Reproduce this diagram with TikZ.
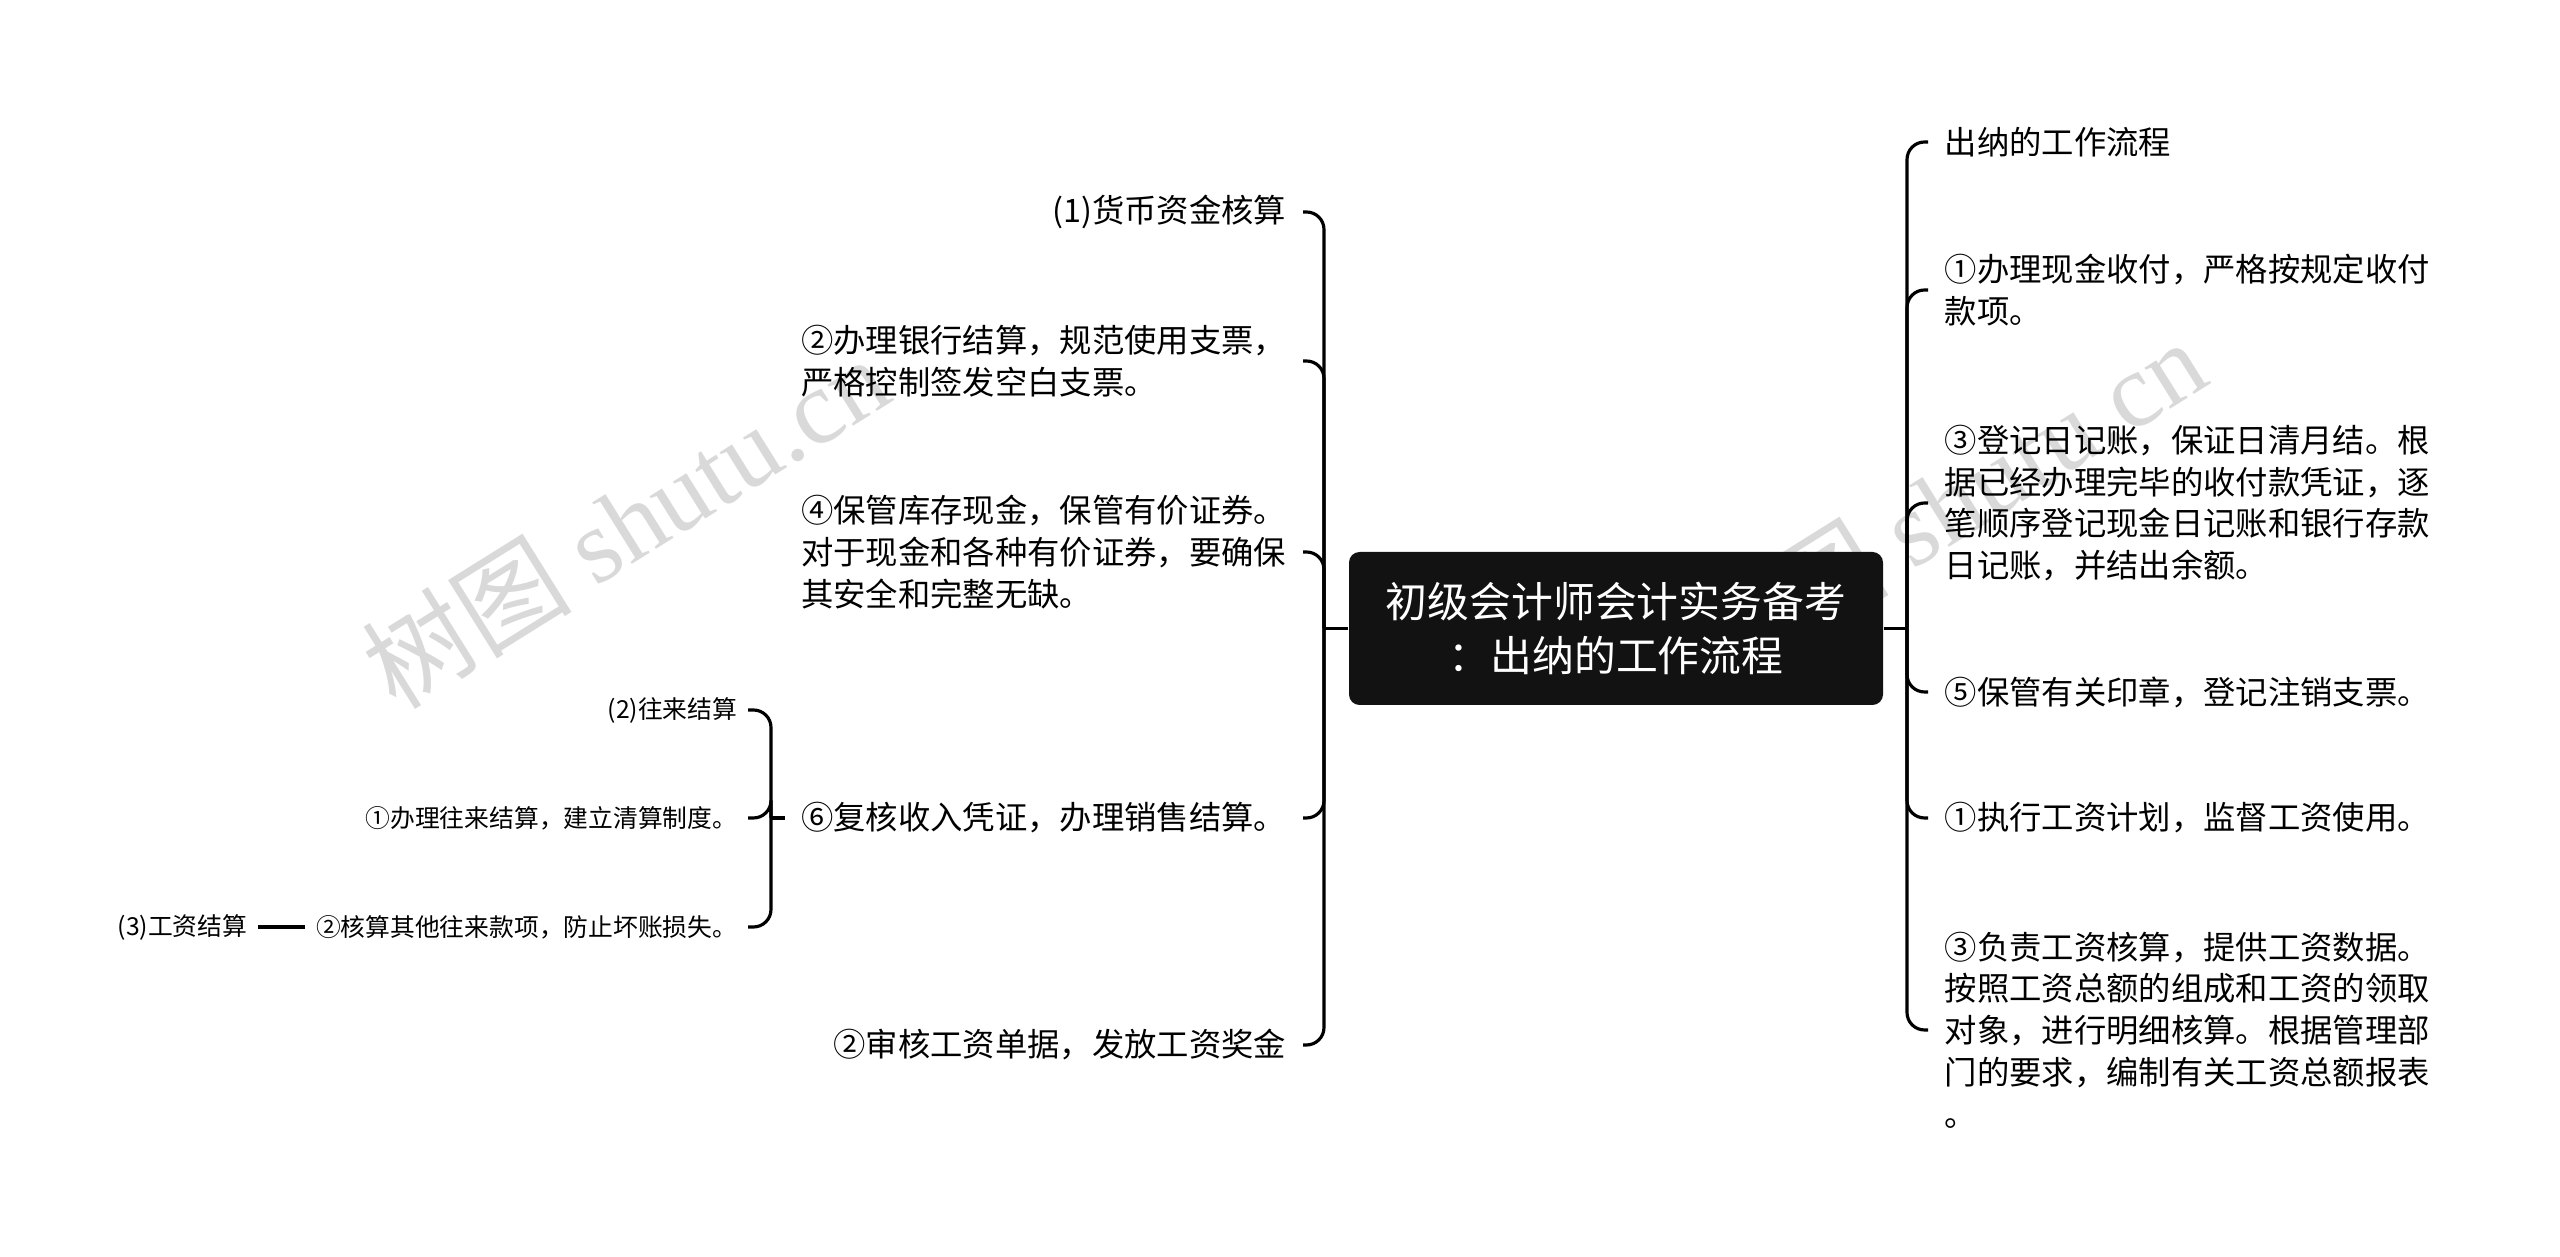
\documentclass[tikz,border=0pt]{standalone}
\usepackage{fontspec}
\setmainfont{Noto Sans CJK SC}
\newfontfamily\wmserif{Liberation Serif}

\begin{document}
\begin{tikzpicture}[
	link/.style={line width=0.9pt, rounded corners=5pt},
	leaf/.style={inner sep=0pt, inner xsep=0.16cm, align=left, font=\fontsize{9.2}{11.9}\selectfont},
	twig/.style={inner sep=0pt, inner xsep=0.1cm, font=\fontsize{7.05}{9}\selectfont},
	root/.style={fill=black!93, text=white, rounded corners=3pt, minimum width=5.34cm, minimum height=1.53cm, align=center, font=\fontsize{11.9}{15.4}\selectfont},
	wmark/.style={text=black!15, rotate=32, font=\fontsize{30}{30}\selectfont}]
	\useasboundingbox (0,0) rectangle (25.6,-12.57);
	% watermarks
	\node[wmark] (wm1) at (6.25,-5.22) {树图 {\wmserif shutu.cn}};
	\node[wmark] (wm2) at (19.42,-5.05) {树图 {\wmserif shutu.cn}};
	% centre
	\node[root] (ctr) at (16.16,-6.285) {初级会计师会计实务备考\\：出纳的工作流程};
	\coordinate (lj) at (13.24,-6.285);
	\coordinate (rj) at (19.07,-6.285);
	% left side
	\node[leaf, anchor=east] (l1) at (13.03,-2.12) {(1)货币资金核算};
	\node[leaf, anchor=east] (l2) at (13.03,-3.61) {②办理银行结算，规范使用支票，\\严格控制签发空白支票。};
	\node[leaf, anchor=east] (l3) at (13.03,-5.52) {④保管库存现金，保管有价证券。\\对于现金和各种有价证券，要确保\\其安全和完整无缺。};
	\node[leaf, anchor=east] (l4) at (13.03,-8.18) {⑥复核收入凭证，办理销售结算。};
	\node[leaf, anchor=east] (l5) at (13.03,-10.45) {②审核工资单据，发放工资奖金};
	% sub items of l4
	\coordinate (sj) at (7.71,-8.18);
	\node[twig, anchor=east] (s1) at (7.48,-7.10) {(2)往来结算};
	\node[twig, anchor=east] (s2) at (7.48,-8.18) {①办理往来结算，建立清算制度。};
	\node[twig, anchor=east] (s3) at (7.48,-9.27) {②核算其他往来款项，防止坏账损失。};
	\node[twig, anchor=east] (s4) at (2.58,-9.27) {(3)工资结算};
	% right side
	\node[leaf, anchor=west] (r1) at (19.28,-1.42) {出纳的工作流程};
	\node[leaf, anchor=west] (r2) at (19.28,-2.90) {①办理现金收付，严格按规定收付\\款项。};
	\node[leaf, anchor=west] (r3) at (19.28,-5.03) {③登记日记账，保证日清月结。根\\据已经办理完毕的收付款凭证，逐\\笔顺序登记现金日记账和银行存款\\日记账，并结出余额。};
	\node[leaf, anchor=west] (r4) at (19.28,-6.92) {⑤保管有关印章，登记注销支票。};
	\node[leaf, anchor=west] (r5) at (19.28,-8.18) {①执行工资计划，监督工资使用。};
	\node[leaf, anchor=west] (r6) at (19.28,-10.30) {③负责工资核算，提供工资数据。\\按照工资总额的组成和工资的领取\\对象，进行明细核算。根据管理部\\门的要求，编制有关工资总额报表\\。};
	% connectors
	\draw[link] (ctr.west) -- (lj);
	\draw[link] (ctr.east) -- (rj);
	\foreach \n in {l1,l2,l3,l4,l5} \draw[link] (lj) |- (\n.east);
	\foreach \n in {r1,r2,r3,r4,r5,r6} \draw[link] (rj) |- (\n.west);
	\draw[link] (l4.west) -- (sj);
	\foreach \n in {s1,s2,s3} \draw[link] (sj) |- (\n.east);
	\draw[link] (s3.west) -- (s4.east);
\end{tikzpicture}
\end{document}
